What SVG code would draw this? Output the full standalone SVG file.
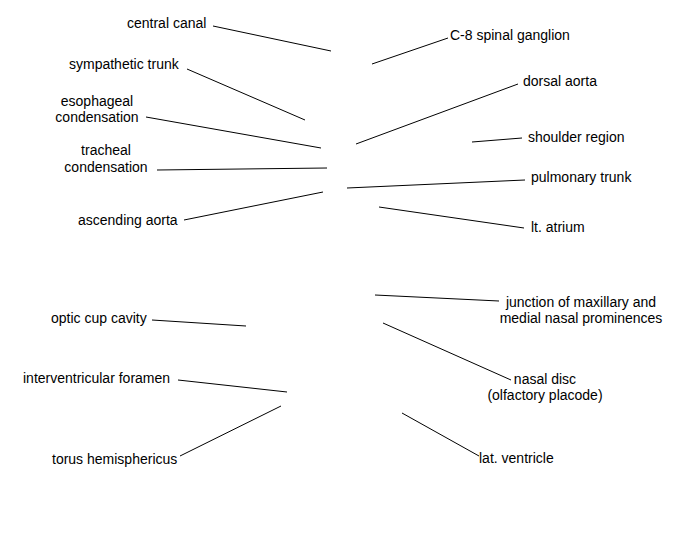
<svg xmlns="http://www.w3.org/2000/svg" width="675" height="550" viewBox="0 0 675 550">
<style>
text{font-family:"Liberation Sans",Arial,sans-serif;font-size:14px;fill:#000}
.m{text-anchor:middle}
.c line{stroke:#000;stroke-width:1}
</style>
<rect width="675" height="550" fill="#fff"/>
<g class="c" id="connectors">
<line x1="213" y1="26" x2="331" y2="51"/>
<line x1="187" y1="69" x2="305" y2="120"/>
<line x1="146" y1="117" x2="321" y2="148"/>
<line x1="157" y1="170" x2="327" y2="168"/>
<line x1="184" y1="220" x2="323" y2="192"/>
<line x1="372" y1="64" x2="448" y2="38"/>
<line x1="356" y1="144" x2="518" y2="84"/>
<line x1="472" y1="142" x2="522" y2="138"/>
<line x1="347" y1="188" x2="525" y2="180"/>
<line x1="379" y1="207" x2="524" y2="228"/>
<line x1="152" y1="320" x2="246" y2="326"/>
<line x1="178" y1="380" x2="287" y2="392"/>
<line x1="180" y1="456" x2="281" y2="406"/>
<line x1="375" y1="295" x2="499" y2="301"/>
<line x1="383" y1="323" x2="511" y2="380"/>
<line x1="402" y1="413" x2="479" y2="456"/>
</g>
<g id="central-canal"><text x="127" y="28">central canal</text></g>
<g id="sympathetic-trunk"><text x="69" y="69">sympathetic trunk</text></g>
<g id="esophageal-condensation"><text class="m" x="97" y="106">esophageal</text><text class="m" x="97" y="122">condensation</text></g>
<g id="tracheal-condensation"><text class="m" x="106" y="155">tracheal</text><text class="m" x="106" y="172">condensation</text></g>
<g id="ascending-aorta"><text x="78" y="225">ascending aorta</text></g>
<g id="c8-spinal-ganglion"><text x="450" y="40">C-8 spinal ganglion</text></g>
<g id="dorsal-aorta"><text x="523" y="86">dorsal aorta</text></g>
<g id="shoulder-region"><text x="528" y="142">shoulder region</text></g>
<g id="pulmonary-trunk"><text x="531" y="182">pulmonary trunk</text></g>
<g id="lt-atrium"><text x="531" y="232">lt. atrium</text></g>
<g id="optic-cup-cavity"><text x="51" y="323">optic cup cavity</text></g>
<g id="interventricular-foramen"><text x="23" y="383">interventricular foramen</text></g>
<g id="torus-hemisphericus"><text x="52" y="464">torus hemisphericus</text></g>
<g id="junction"><text class="m" x="581" y="307">junction of maxillary and</text><text class="m" x="581" y="323">medial nasal prominences</text></g>
<g id="nasal-disc"><text class="m" x="545" y="384">nasal disc</text><text class="m" x="545" y="400">(olfactory placode)</text></g>
<g id="lat-ventricle"><text x="479" y="463">lat. ventricle</text></g>
</svg>
